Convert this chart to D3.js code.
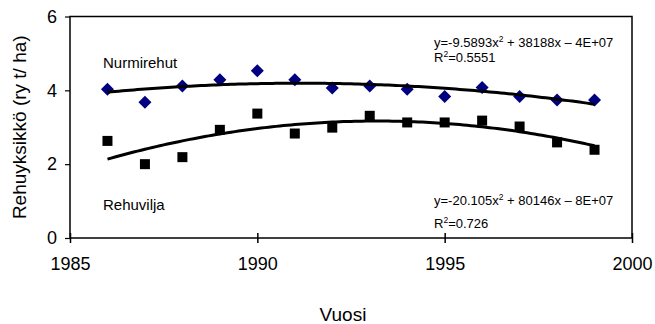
<!DOCTYPE html>
<html>
<head>
<meta charset="utf-8">
<script src="https://cdn.jsdelivr.net/npm/d3@7"></script>
<style>
  body { margin: 0; background: #fff; }
  text { font-family: "Liberation Sans", Arial, sans-serif; fill: #000; }
</style>
</head>
<body>
<div id="graph"></div>
<script>
// values
var years = [1986, 1987, 1988, 1989, 1990, 1991, 1992, 1993, 1994, 1995, 1996, 1997, 1998, 1999];
var nurmirehut = [4.03, 3.68, 4.12, 4.29, 4.53, 4.29, 4.06, 4.12, 4.03, 3.83, 4.08, 3.83, 3.74, 3.74];
var rehuvilja = [2.63, 2.0, 2.19, 2.93, 3.37, 2.83, 2.99, 3.31, 3.13, 3.13, 3.18, 3.02, 2.59, 2.39];
var xTicks = [1985, 1990, 1995, 2000];
var yTicks = [0, 2, 4, 6];

var width = 655, height = 324;
// plot area edges (window.top is reserved, so own names)
var plotL = 70, plotR = 632, plotT = 16.5, plotB = 238;

var svg = d3.select('#graph').append('svg')
    .attr('width', width)
    .attr('height', height);

var x = d3.scaleLinear().domain([1985, 2000]).range([plotL, plotR]);
var y = d3.scaleLinear().domain([0, 6]).range([plotB, plotT]);

// box around plot area
svg.append('rect')
    .attr('x', plotL).attr('y', plotT)
    .attr('width', plotR - plotL).attr('height', plotB - plotT)
    .attr('fill', 'none').attr('stroke', '#000').attr('stroke-width', 1.5);

// y axis, outward ticks
var yAxis = svg.append('g')
    .attr('transform', 'translate(' + plotL + ',0)')
    .call(d3.axisLeft(y).tickValues(yTicks).tickSize(5).tickPadding(8).tickFormat(d3.format('d')));
yAxis.select('.domain').remove();
yAxis.selectAll('line').attr('stroke', '#000').attr('stroke-width', 1.2);
yAxis.selectAll('text').style('font-size', '18px').attr('font-family', null);

// x axis, ticks crossing the line
var xAxis = svg.append('g')
    .attr('transform', 'translate(0,' + plotB + ')')
    .call(d3.axisBottom(x).tickValues(xTicks).tickSize(5).tickPadding(14).tickFormat(d3.format('d')));
xAxis.select('.domain').remove();
xAxis.selectAll('line').attr('y1', -5).attr('stroke', '#000').attr('stroke-width', 1.5);
xAxis.selectAll('text').style('font-size', '18px').attr('font-family', null);

// quadratic least squares trend, x centred for stability
function quadFit(xs, ys) {
    var m = d3.mean(xs);
    var s = [0, 0, 0, 0, 0], t = [0, 0, 0];
    xs.forEach(function(xv, i) {
        var u = xv - m;
        for (var k = 0; k < 5; k++) s[k] += Math.pow(u, k);
        for (var k = 0; k < 3; k++) t[k] += ys[i] * Math.pow(u, k);
    });
    // solve 3x3 system by Cramer's rule
    var A = [[s[0], s[1], s[2]], [s[1], s[2], s[3]], [s[2], s[3], s[4]]];
    function det(M) {
        return M[0][0] * (M[1][1] * M[2][2] - M[1][2] * M[2][1])
             - M[0][1] * (M[1][0] * M[2][2] - M[1][2] * M[2][0])
             + M[0][2] * (M[1][0] * M[2][1] - M[1][1] * M[2][0]);
    }
    var D = det(A);
    var c = [0, 1, 2].map(function(j) {
        var Mj = A.map(function(row, r) { return row.map(function(v, k) { return k === j ? t[r] : v; }); });
        return det(Mj) / D;
    });
    return function(xv) { var u = xv - m; return c[0] + c[1] * u + c[2] * u * u; };
}

function trendPoints(ys) {
    var f = quadFit(years, ys);
    var pts = [];
    for (var xv = years[0]; xv <= years[years.length - 1] + 1e-9; xv += 0.1) pts.push([xv, f(xv)]);
    return pts;
}

var line = d3.line().x(d => x(d[0])).y(d => y(d[1]));

// markers
svg.append('g').selectAll('path')
    .data(years.map((yr, i) => [yr, nurmirehut[i]]))
    .enter().append('path')
    .attr('d', 'M0,-6.5L6.5,0L0,6.5L-6.5,0Z')
    .attr('transform', d => 'translate(' + x(d[0]) + ',' + y(d[1]) + ')')
    .attr('fill', '#000080');

svg.append('g').selectAll('rect')
    .data(years.map((yr, i) => [yr, rehuvilja[i]]))
    .enter().append('rect')
    .attr('x', d => x(d[0]) - 5)
    .attr('y', d => y(d[1]) - 5)
    .attr('width', 10).attr('height', 10)
    .attr('fill', '#000');

// trend lines on top
[nurmirehut, rehuvilja].forEach(function(ys) {
    svg.append('path')
        .datum(trendPoints(ys))
        .attr('d', line)
        .attr('fill', 'none')
        .attr('stroke', '#000')
        .attr('stroke-width', 3);
});

// labels
svg.append('text').attr('x', 103).attr('y', 68).style('font-size', '15px').text('Nurmirehut');
svg.append('text').attr('x', 103).attr('y', 210).style('font-size', '15px').text('Rehuvilja');

function equation(xp, yp, a, b, c) {
    var t = svg.append('text').attr('x', xp).attr('y', yp).style('font-size', '13px');
    t.append('tspan').text('y=' + a + 'x');
    t.append('tspan').attr('dy', -5).style('font-size', '8.5px').text('2');
    t.append('tspan').attr('dy', 5).text(' + ' + b + 'x \u2013 ' + c);
}
function rsq(xp, yp, v) {
    var t = svg.append('text').attr('x', xp).attr('y', yp).style('font-size', '13px');
    t.append('tspan').text('R');
    t.append('tspan').attr('dy', -5).style('font-size', '8.5px').text('2');
    t.append('tspan').attr('dy', 5).text('=' + v);
}
equation(434, 46.5, '-9.5893', '38188', '4E+07');
rsq(434, 61.5, '0.5551');
equation(434, 204.5, '-20.105', '80146', '8E+07');
rsq(434, 228, '0.726');

// axis titles
svg.append('text')
    .attr('transform', 'translate(26,' + (plotT + plotB) / 2 + ') rotate(-90)')
    .attr('text-anchor', 'middle')
    .style('font-size', '19px')
    .text('Rehuyksikkö (ry t/ ha)');
svg.append('text')
    .attr('x', (plotL + plotR) / 2 - 8).attr('y', 321)
    .attr('text-anchor', 'middle')
    .style('font-size', '19px')
    .text('Vuosi');
</script>
</body>
</html>
